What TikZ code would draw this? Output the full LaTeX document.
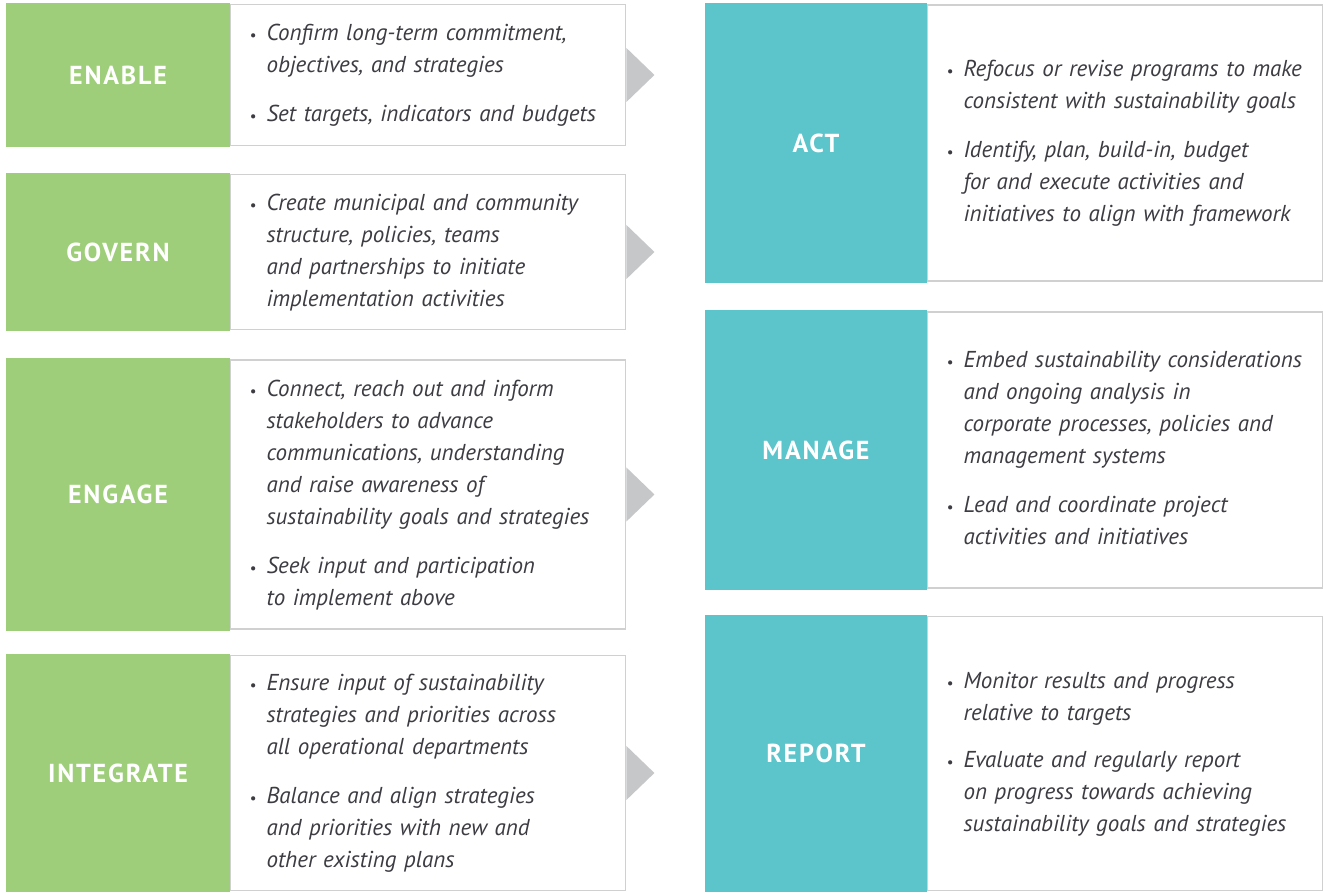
\documentclass[tikz,border=0pt]{standalone}
\usepackage{fontspec}
\setmainfont[WordSpace=0.6]{PT Sans}
\newfontfamily\lblfont[LetterSpace=7]{PT Sans}
\usetikzlibrary{positioning}

\definecolor{stagegreen}{RGB}{158,206,121}
\definecolor{stageteal}{RGB}{92,196,203}
\definecolor{arrowgray}{RGB}{198,199,201}
\definecolor{boxgray}{RGB}{208,208,208}
\definecolor{txtgray}{RGB}{60,60,66}

\newcommand{\dotb}{{\upshape\fontsize{15}{15}\selectfont\textbullet}}
\newcommand{\pts}[1]{{\itshape\begin{tabular}{@{}l@{\hspace{10pt}}l@{}}#1\end{tabular}}}

\begin{document}
\begin{tikzpicture}[x=1pt,y=1pt,
  lbl/.style={inner sep=0pt,minimum width=224pt,text=white,font=\lblfont\fontsize{26}{30}\selectfont\bfseries},
  greenlbl/.style={lbl,fill=stagegreen},
  teallbl/.style={lbl,fill=stageteal},
  ptsbox/.style={draw=boxgray,line width=1.2pt,fill=white,inner xsep=19pt,inner ysep=0pt,
    text width=357pt,align=left,text=txtgray,font=\fontsize{23}{32}\selectfont}]
\useasboundingbox (0,0) rectangle (1324,893);

% left column
\node[greenlbl,minimum height=144pt] (enable) at (118,818) {ENABLE};
\node[ptsbox,minimum height=141pt,right=0pt of enable] (enable-pts) {\pts{
  \dotb & Confirm long-term commitment,\\
        & objectives, and strategies\\[17pt]
  \dotb & Set targets, indicators and budgets}};

\node[greenlbl,minimum height=158pt] (govern) at (118,641) {GOVERN};
\node[ptsbox,minimum height=155pt,right=0pt of govern] (govern-pts) {\pts{
  \dotb & Create municipal and community\\
        & structure, policies, teams\\
        & and partnerships to initiate\\
        & implementation activities}};

\node[greenlbl,minimum height=273pt] (engage) at (118,398.5) {ENGAGE};
\node[ptsbox,minimum height=269pt,right=0pt of engage] (engage-pts) {\pts{
  \dotb & Connect, reach out and inform\\
        & stakeholders to advance\\
        & communications, understanding\\
        & and raise awareness of\\
        & sustainability goals and strategies\\[17pt]
  \dotb & Seek input and participation\\
        & to implement above}};

\node[greenlbl,minimum height=238pt] (integrate) at (118,120) {INTEGRATE};
\node[ptsbox,minimum height=235pt,right=0pt of integrate] (integrate-pts) {\pts{
  \dotb & Ensure input of sustainability\\
        & strategies and priorities across\\
        & all operational departments\\[17pt]
  \dotb & Balance and align strategies\\
        & and priorities with new and\\
        & other existing plans}};

\foreach \n in {enable,govern,engage,integrate}
  \fill[arrowgray] (\n-pts.east) ++(0,27) -- ++(28,-27) -- ++(-28,-27) -- cycle;

% right column
\node[teallbl,minimum width=222pt,minimum height=280pt] (act) at (816,750) {ACT};
\node[ptsbox,minimum height=276pt,right=0pt of act] (act-pts) {\pts{
  \dotb & Refocus or revise programs to make\\
        & consistent with sustainability goals\\[17pt]
  \dotb & Identify, plan, build-in, budget\\
        & for and execute activities and\\
        & initiatives to align with framework}};

\node[teallbl,minimum width=222pt,minimum height=280pt] (manage) at (816,443) {MANAGE};
\node[ptsbox,minimum height=276pt,right=0pt of manage] (manage-pts) {\pts{
  \dotb & Embed sustainability considerations\\
        & and ongoing analysis in\\
        & corporate processes, policies and\\
        & management systems\\[17pt]
  \dotb & Lead and coordinate project\\
        & activities and initiatives}};

\node[teallbl,minimum width=222pt,minimum height=277pt] (report) at (816,139.5) {REPORT};
\node[ptsbox,minimum height=274pt,right=0pt of report] (report-pts) {\pts{
  \dotb & Monitor results and progress\\
        & relative to targets\\[15pt]
  \dotb & Evaluate and regularly report\\
        & on progress towards achieving\\
        & sustainability goals and strategies}};
\end{tikzpicture}
\end{document}
